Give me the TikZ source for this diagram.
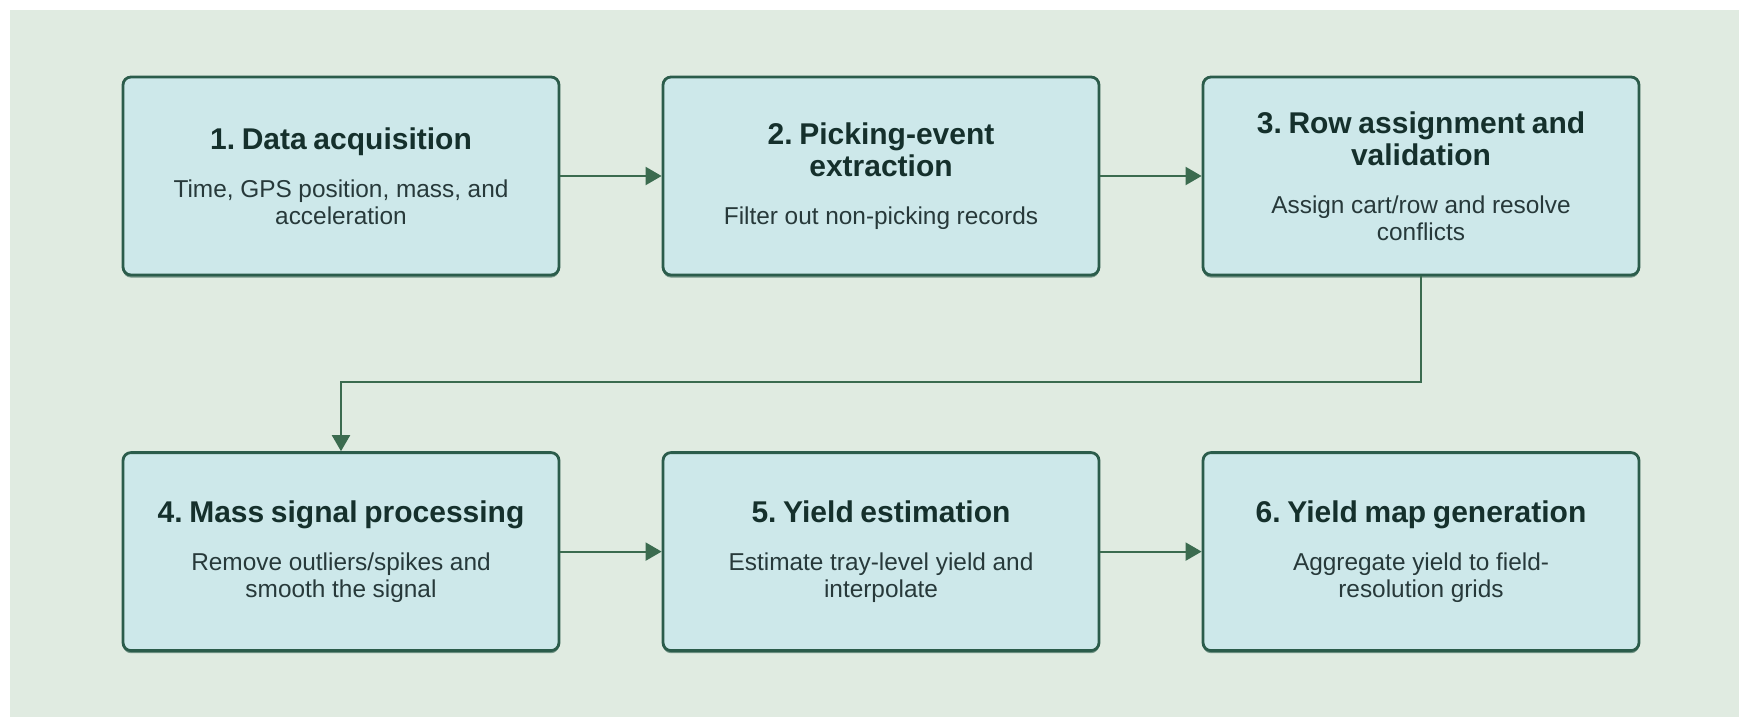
\documentclass[tikz,border=0pt]{standalone}
\usepackage{fontspec}
\setmainfont{Liberation Sans}
\usetikzlibrary{positioning,arrows.meta,shadows}
\definecolor{panelbg}{HTML}{E0EBE1}
\definecolor{boxfill}{HTML}{CDE8EA}
\definecolor{boxedge}{HTML}{2B5C4B}
\definecolor{flowgreen}{HTML}{3B6B4F}
\definecolor{ttlcol}{HTML}{15302C}
\definecolor{bdycol}{HTML}{27393A}
\def\ttl{\fontsize{15}{16}\selectfont\bfseries\color{ttlcol}}
\def\bdy{\fontsize{12.2}{13.5}\selectfont\color{bdycol}}
\def\stagetext#1#2{\frenchspacing{\ttl #1\par}\vspace{10.5pt}{\bdy #2\par}}
\tikzset{
	stagebox/.style={draw=boxedge, fill=boxfill, line width=1.4pt, rounded corners=4pt,
		minimum width=218pt, minimum height=99pt, text width=208pt, align=center, inner sep=0pt,
		drop shadow={shadow xshift=0pt, shadow yshift=-1.3pt, fill=boxedge, opacity=0.6}},
	flowarrow/.style={draw=flowgreen, line width=1pt, -{Triangle[length=8pt, width=9pt]}}
}
\begin{document}
\begin{tikzpicture}
			%%%%% START %%%%%
			
			\useasboundingbox (0,0) rectangle (875pt,-363.5pt);
			\fill[panelbg] (5pt,-5pt) rectangle (869.5pt,-358.5pt);
			
			\node[stagebox] (acq) at (170.5pt,-88pt) {\stagetext{1. Data acquisition}{Time, GPS position, mass, and\\acceleration}};
			\node[stagebox, right=50.6pt of acq] (pick) {\stagetext{2. Picking-event\\extraction}{Filter out non-picking records}};
			\node[stagebox, right=50.6pt of pick] (rows) {\stagetext{3. Row assignment and\\validation}{Assign cart/row and resolve\\conflicts}};
			
			\node[stagebox, below=87.4pt of acq] (mass) {\stagetext{4. Mass signal processing}{Remove outliers/spikes and\\smooth the signal}};
			\node[stagebox, right=50.6pt of mass] (yield) {\stagetext{5. Yield estimation}{Estimate tray-level yield and\\interpolate}};
			\node[stagebox, right=50.6pt of yield] (ymap) {\stagetext{6. Yield map generation}{Aggregate yield to field-\\resolution grids}};
			
			\draw[flowarrow] (acq) -- (pick);
			\draw[flowarrow] (pick) -- (rows);
			\draw[flowarrow] (rows.south) -- ++(0,-53pt) -| (mass.north);
			\draw[flowarrow] (mass) -- (yield);
			\draw[flowarrow] (yield) -- (ymap);
			
			%%%%% END %%%%%
\end{tikzpicture}
\end{document}
